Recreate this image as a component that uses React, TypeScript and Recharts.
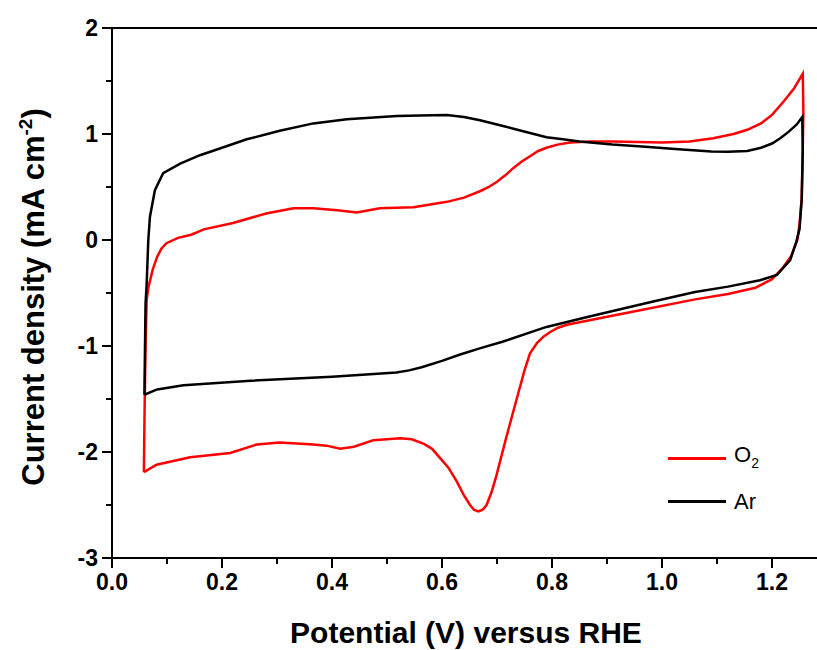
import React from 'react';
import { LineChart, Line, XAxis, YAxis, ReferenceLine } from 'recharts';

const o2Potential = [
  0.058, 0.059, 0.061, 0.063, 0.066, 0.074, 0.082, 0.09, 0.099, 0.12, 0.144, 0.167, 0.22, 0.28, 0.33, 0.366,
  0.41, 0.445, 0.487, 0.548, 0.609, 0.64, 0.669, 0.685, 0.7, 0.715, 0.73, 0.745, 0.76, 0.775, 0.79, 0.81,
  0.833, 0.87, 0.91, 1.0, 1.05, 1.093, 1.13, 1.155, 1.18, 1.2, 1.22, 1.24, 1.256,
  1.257, 1.256, 1.254, 1.25, 1.246, 1.235, 1.22, 1.2, 1.17, 1.12, 1.06, 0.944, 0.827, 0.81, 0.796, 0.785,
  0.773, 0.76, 0.75, 0.74, 0.729, 0.717, 0.705, 0.698, 0.69, 0.681, 0.674, 0.666, 0.658, 0.651, 0.64,
  0.627, 0.612, 0.597, 0.582, 0.566, 0.545, 0.524, 0.5, 0.475, 0.44, 0.415, 0.39, 0.366, 0.305,
  0.263, 0.215, 0.142, 0.081, 0.058,
];
const o2Current = [
  -2.19, -1.7, -1.0, -0.57, -0.45, -0.28, -0.16, -0.08, -0.03, 0.02, 0.05, 0.1, 0.16, 0.25, 0.3, 0.3,
  0.28, 0.26, 0.3, 0.31, 0.36, 0.4, 0.46, 0.5, 0.55, 0.61, 0.68, 0.74, 0.79, 0.84, 0.87, 0.9,
  0.92, 0.93, 0.93, 0.92, 0.93, 0.96, 1.0, 1.04, 1.1, 1.18, 1.3, 1.43, 1.57,
  1.2, 0.9, 0.4, 0.15, 0.0, -0.15, -0.26, -0.37, -0.45, -0.51, -0.56, -0.68, -0.8, -0.83, -0.87, -0.91,
  -0.97, -1.07, -1.23, -1.42, -1.63, -1.86, -2.1, -2.24, -2.38, -2.5, -2.545, -2.56, -2.545, -2.5, -2.41,
  -2.28, -2.15, -2.06, -1.97, -1.92, -1.88, -1.87, -1.88, -1.89, -1.95, -1.97, -1.94, -1.93, -1.91,
  -1.93, -2.01, -2.05, -2.12, -2.19,
];

const arPotential = [
  0.059, 0.06, 0.061, 0.063, 0.066, 0.069, 0.078, 0.093, 0.124, 0.16, 0.2, 0.245, 0.305, 0.366,
  0.427, 0.518, 0.56, 0.609, 0.64, 0.669, 0.7, 0.73, 0.76, 0.79, 0.82, 0.85, 0.91, 0.97, 1.03, 1.09,
  1.12, 1.155, 1.18, 1.2, 1.215, 1.23, 1.245, 1.255, 1.256, 1.254,
  1.25, 1.244, 1.233, 1.209, 1.178, 1.12, 1.06, 0.984, 0.87, 0.79, 0.71, 0.67, 0.633, 0.6, 0.563, 0.54,
  0.517, 0.4, 0.245, 0.13, 0.082, 0.059,
];
const arCurrent = [
  -1.46, -1.0, -0.6, -0.42, 0.0, 0.22, 0.47, 0.63, 0.72, 0.8, 0.87, 0.95, 1.03, 1.1,
  1.14, 1.17, 1.175, 1.18, 1.16, 1.13, 1.09, 1.05, 1.01, 0.97, 0.95, 0.93, 0.9, 0.88, 0.855, 0.835,
  0.832, 0.84, 0.87, 0.91, 0.96, 1.02, 1.09, 1.16, 0.85, 0.38,
  0.1, -0.02, -0.19, -0.33, -0.38, -0.44, -0.49, -0.58, -0.72, -0.82, -0.96, -1.02, -1.08, -1.14, -1.2, -1.23,
  -1.25, -1.29, -1.33, -1.37, -1.41, -1.46,
];

const xTicks = [0, 0.1, 0.2, 0.3, 0.4, 0.5, 0.6, 0.7, 0.8, 0.9, 1.0, 1.1, 1.2];
const xTickLabels = ['0.0', '', '0.2', '', '0.4', '', '0.6', '', '0.8', '', '1.0', '', '1.2'];
const yTicks = [-3, -2.5, -2, -1.5, -1, -0.5, 0, 0.5, 1, 1.5, 2];
const yTickLabels = ['-3', '', '-2', '', '-1', '', '0', '', '1', '', '2'];

const o2Data = o2Potential.map((v, i) => ({ v, j: o2Current[i] }));
const arData = arPotential.map((v, i) => ({ v, j: arCurrent[i] }));

const FONT = '"Liberation Sans", Arial, sans-serif';

const XTick = (props: any) => {
  const { x, y, payload } = props;
  const label = xTickLabels[xTicks.indexOf(payload.value)] ?? '';
  const major = label !== '';
  return (
    <g>
      <line x1={x} y1={y} x2={x} y2={y + (major ? 10 : 6)} stroke="#000" strokeWidth={2} />
      {major && (
        <text x={x} y={y + 32} textAnchor="middle" fontFamily={FONT} fontWeight="bold" fontSize={23} fill="#000">
          {label}
        </text>
      )}
    </g>
  );
};

const YTick = (props: any) => {
  const { x, y, payload } = props;
  const label = yTickLabels[yTicks.indexOf(payload.value)] ?? '';
  const major = label !== '';
  return (
    <g>
      <line x1={x} y1={y} x2={x - (major ? 10 : 6)} y2={y} stroke="#000" strokeWidth={2} />
      {major && (
        <text x={x - 14} y={y + 8} textAnchor="end" fontFamily={FONT} fontWeight="bold" fontSize={23} fill="#000">
          {label}
        </text>
      )}
    </g>
  );
};

const YTitle = () => (
  <text
    x={0}
    y={0}
    transform="translate(44, 297) rotate(-90)"
    textAnchor="middle"
    fontFamily={FONT}
    fontWeight="bold"
    fontSize={31}
    fill="#000"
  >
    Current density (mA cm
    <tspan dy={-12} fontSize={19}>-2</tspan>
    <tspan dy={12}>)</tspan>
  </text>
);

const XTitle = () => (
  <text x={466} y={643} textAnchor="middle" fontFamily={FONT} fontWeight="bold" fontSize={30} fill="#000">
    Potential (V) versus RHE
  </text>
);

const legendItems = [
  { name: 'O', sub: '2', color: '#ff0000' },
  { name: 'Ar', sub: '', color: '#000000' },
];

const LegendBox = () => (
  <div style={{ position: 'absolute', left: 668, top: 437, fontFamily: FONT, fontSize: 22, color: '#000' }}>
    {legendItems.map((it) => (
      <div key={it.name} style={{ display: 'flex', alignItems: 'center', height: 43 }}>
        <div style={{ width: 58, height: 3, background: it.color, marginRight: 8 }} />
        <span style={{ lineHeight: '22px' }}>
          {it.name}
          {it.sub && <sub style={{ fontSize: 14, verticalAlign: -6 }}>{it.sub}</sub>}
        </span>
      </div>
    ))}
  </div>
);

export default function App() {
  return (
    <div style={{ position: 'absolute', left: 0, top: 0, width: 817, height: 650, background: '#fff' }}>
      <LineChart width={817} height={650} margin={{ top: 28, right: 0, bottom: 0, left: 0 }}>
        <XAxis
          type="number"
          dataKey="v"
          domain={[0, 1.2818]}
          ticks={xTicks}
          interval={0}
          allowDataOverflow
          height={92}
          tickSize={0}
          tickMargin={0}
          tickLine={false}
          tick={<XTick />}
          axisLine={{ stroke: '#000', strokeWidth: 2 }}
        />
        <YAxis
          type="number"
          dataKey="j"
          domain={[-3, 2]}
          ticks={yTicks}
          interval={0}
          allowDataOverflow
          width={112}
          tickSize={0}
          tickMargin={0}
          tickLine={false}
          tick={<YTick />}
          axisLine={{ stroke: '#000', strokeWidth: 2 }}
          label={<YTitle />}
        />
        <ReferenceLine y={2} stroke="#000" strokeWidth={2} />
        <Line
          data={o2Data}
          dataKey="j"
          name="O2"
          type="linear"
          stroke="#ff0000"
          strokeWidth={2.5}
          dot={false}
          isAnimationActive={false}
        />
        <Line
          data={arData}
          dataKey="j"
          name="Ar"
          type="linear"
          stroke="#000000"
          strokeWidth={2.5}
          dot={false}
          isAnimationActive={false}
        />
        <XTitle />
      </LineChart>
      <LegendBox />
    </div>
  );
}
